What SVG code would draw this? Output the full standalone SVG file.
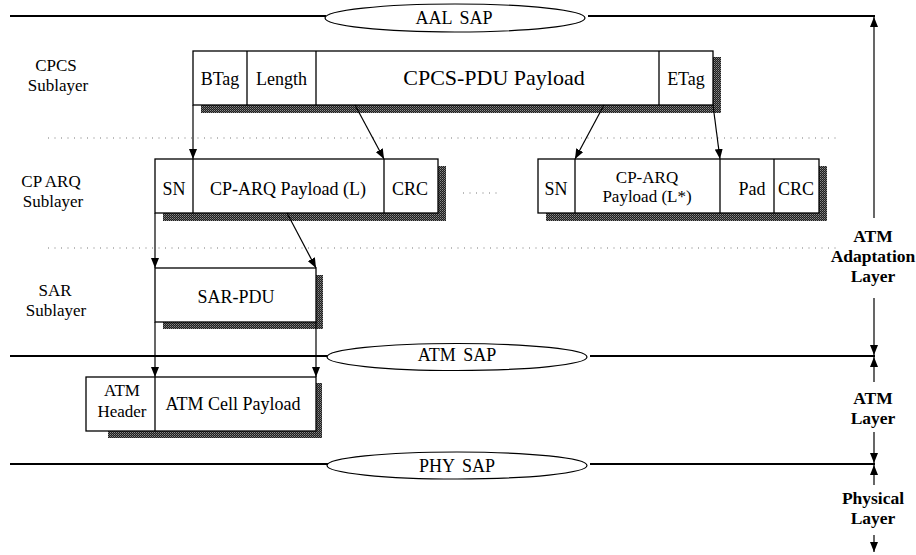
<svg xmlns="http://www.w3.org/2000/svg" width="916" height="555" viewBox="0 0 916 555">
<defs>
<pattern id="dither" width="2" height="2" patternUnits="userSpaceOnUse">
<rect width="2" height="2" fill="#1e1e1e"/>
<rect x="0" y="0" width="1" height="1" fill="#8a8a8a"/>
<rect x="1" y="1" width="1" height="1" fill="#5e5e5e"/>
</pattern>
<marker id="ah" markerWidth="10" markerHeight="8" refX="10" refY="4" orient="auto" markerUnits="userSpaceOnUse">
<path d="M0,0 L10,4 L0,8 Z" fill="#000"/>
</marker>
</defs>
<style>
text{font-family:"Liberation Serif","Times New Roman",serif;fill:#000;text-anchor:middle}
.t18{font-size:18px}
.t17{font-size:17px}
.t22{font-size:22px}
.b{font-size:17.5px;font-weight:bold}
.box{fill:#fff;stroke:#000;stroke-width:1.3}
.sh{fill:url(#dither)}
.div{stroke:#000;stroke-width:1.3}
.sap{stroke:#000;stroke-width:2;fill:none}
.ell{fill:#fff;stroke:#000;stroke-width:1.2}
.dot{stroke:#777;stroke-width:1;stroke-dasharray:1 5.5}
.con{stroke:#000;stroke-width:1.2;fill:none;marker-end:url(#ah)}
</style>

<g id="sap-lines">
<line class="sap" x1="10" y1="16" x2="326" y2="16"/>
<line class="sap" x1="588" y1="16" x2="875" y2="16"/>
<line class="sap" x1="10" y1="356" x2="328" y2="356"/>
<line class="sap" x1="590" y1="356" x2="875" y2="356"/>
<line class="sap" x1="10" y1="464" x2="328" y2="464"/>
<line class="sap" x1="590" y1="464" x2="875" y2="464"/>
<line class="dot" x1="48" y1="138" x2="840" y2="138"/>
<line class="dot" x1="48" y1="248" x2="840" y2="248"/>
<line class="dot" x1="463" y1="193" x2="502" y2="193"/>
</g>

<g id="aal-sap">
<ellipse class="ell" cx="455" cy="18" rx="130" ry="14"/>
<text class="t18" x="454" y="24" word-spacing="3">AAL SAP</text>
</g>
<g id="atm-sap">
<ellipse class="ell" cx="457" cy="357" rx="130" ry="13.5"/>
<text class="t18" x="457" y="361" word-spacing="3">ATM SAP</text>
</g>
<g id="phy-sap">
<ellipse class="ell" cx="457" cy="465.5" rx="130" ry="13.5"/>
<text class="t18" x="457" y="472" word-spacing="3">PHY SAP</text>
</g>

<g id="labels-left">
<text class="t17" x="56" y="71">CPCS</text>
<text class="t17" x="58" y="91">Sublayer</text>
<text class="t17" x="51" y="187">CP ARQ</text>
<text class="t17" x="53" y="207">Sublayer</text>
<text class="t17" x="55" y="296">SAR</text>
<text class="t17" x="56" y="316">Sublayer</text>
</g>

<g id="cpcs-pdu">
<rect class="sh" x="201" y="57" width="520" height="56"/>
<rect class="box" x="193" y="51" width="520" height="54"/>
<line class="div" x1="247" y1="51" x2="247" y2="105"/>
<line class="div" x1="316" y1="51" x2="316" y2="105"/>
<line class="div" x1="659" y1="51" x2="659" y2="105"/>
<text class="t18" x="220" y="85">BTag</text>
<text class="t18" x="281.5" y="85">Length</text>
<text class="t22" x="494" y="85">CPCS-PDU Payload</text>
<text class="t18" x="686" y="85">ETag</text>
</g>

<g id="cparq-pdu-1">
<rect class="sh" x="163" y="166" width="283" height="55"/>
<rect class="box" x="155" y="159" width="283" height="54"/>
<line class="div" x1="193" y1="159" x2="193" y2="213"/>
<line class="div" x1="384" y1="159" x2="384" y2="213"/>
<text class="t18" x="174" y="195">SN</text>
<text class="t18" x="288" y="195">CP-ARQ Payload (L)</text>
<text class="t18" x="410" y="195">CRC</text>
</g>

<g id="cparq-pdu-2">
<rect class="sh" x="546" y="166" width="281" height="55"/>
<rect class="box" x="538" y="159" width="281" height="54"/>
<line class="div" x1="575" y1="159" x2="575" y2="213"/>
<line class="div" x1="720" y1="159" x2="720" y2="213"/>
<line class="div" x1="774" y1="159" x2="774" y2="213"/>
<text class="t18" x="556" y="195">SN</text>
<text class="t17" x="647" y="183">CP-ARQ</text>
<text class="t17" x="647" y="202">Payload (L*)</text>
<text class="t18" x="752" y="195">Pad</text>
<text class="t18" x="796" y="195">CRC</text>
</g>

<g id="sar-pdu">
<rect class="sh" x="163" y="275" width="160" height="54"/>
<rect class="box" x="155" y="268" width="161" height="54"/>
<text class="t18" x="236" y="303">SAR-PDU</text>
</g>

<g id="atm-cell">
<rect class="sh" x="108" y="383" width="214" height="55"/>
<rect class="box" x="86" y="377" width="230" height="54"/>
<line class="div" x1="155" y1="377" x2="155" y2="431"/>
<text class="t17" x="122" y="396">ATM</text>
<text class="t17" x="122" y="417">Header</text>
<text class="t18" x="233" y="410">ATM Cell Payload</text>
</g>

<g id="labels-right">
<text class="b" x="873" y="242">ATM</text>
<text class="b" x="873" y="262">Adaptation</text>
<text class="b" x="873" y="282">Layer</text>
<text class="b" x="873" y="404">ATM</text>
<text class="b" x="873" y="424">Layer</text>
<text class="b" x="873" y="504">Physical</text>
<text class="b" x="873" y="524">Layer</text>
</g>

<g id="connectors">
<line class="con" x1="193" y1="105" x2="193" y2="159"/>
<line class="con" x1="355" y1="105" x2="384" y2="159"/>
<line class="con" x1="604" y1="105" x2="575" y2="159"/>
<line class="con" x1="713" y1="105" x2="720" y2="159"/>
<line class="con" x1="155" y1="213" x2="155" y2="268"/>
<line class="con" x1="287" y1="213" x2="316" y2="268"/>
<line class="con" x1="155" y1="322" x2="155" y2="377"/>
<line class="con" x1="316" y1="322" x2="316" y2="377"/>
<line class="con" x1="874" y1="218" x2="874" y2="17"/>
<line class="con" x1="874" y1="298" x2="874" y2="355"/>
<line class="con" x1="874" y1="382" x2="874" y2="357"/>
<line class="con" x1="874" y1="432" x2="874" y2="463"/>
<line class="con" x1="874" y1="485" x2="874" y2="465"/>
<line class="con" x1="874" y1="535" x2="874" y2="552"/>
</g>
</svg>
